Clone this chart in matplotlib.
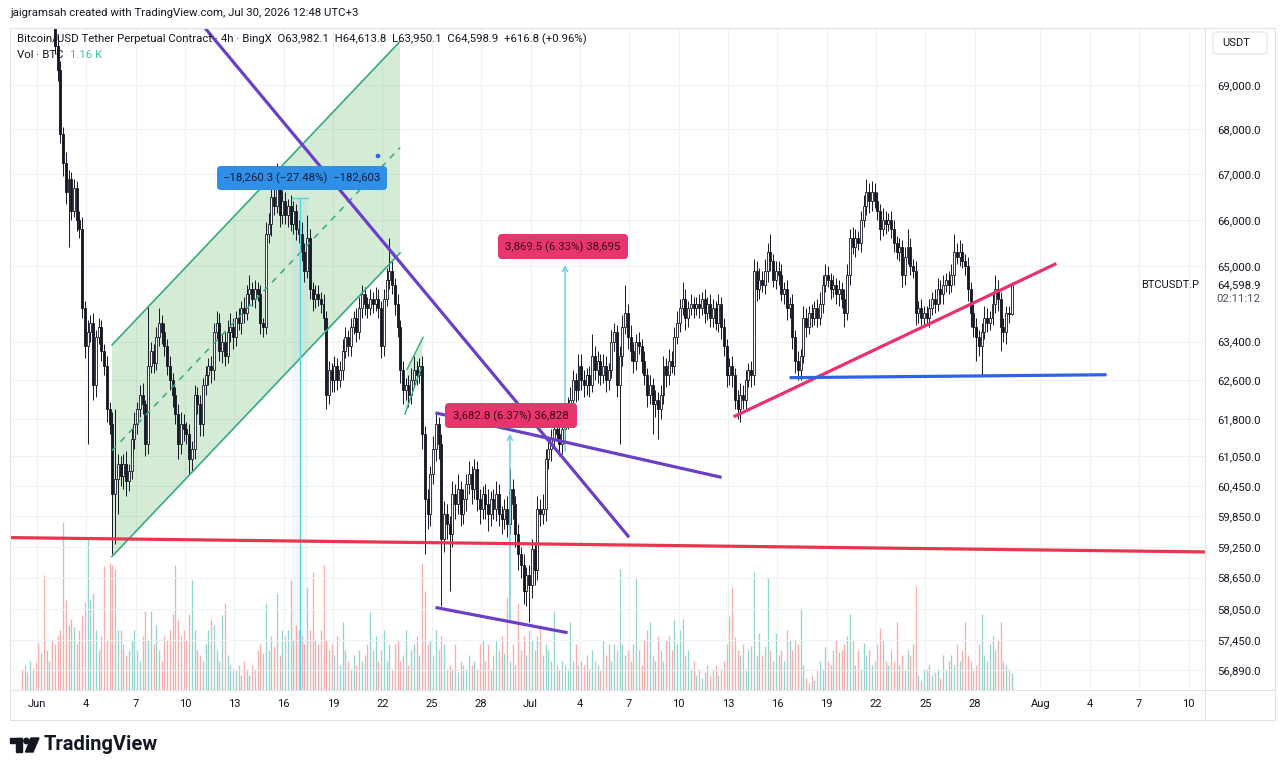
import numpy as np
import pandas as pd
import matplotlib
matplotlib.use("Agg")
import matplotlib.pyplot as plt
from matplotlib.patches import FancyBboxPatch, Polygon, Circle, Rectangle
from matplotlib.ticker import NullLocator

plt.rcParams["font.family"] = ["Roboto", "DejaVu Sans"]

# ---- BTCUSDT.P 4h candles, first bar 2026-05-31 00:00 ----
first_open = 73000
closes = [
    72800, 73100, 72500, 72900, 72600, 72200,   # May 31
    71900, 72300, 71700, 71400, 71600, 71100,   # Jun 1
    69900, 69340, 67900, 67250, 66600, 66900,   # Jun 2
    66200, 66700, 66000, 65800, 64100, 63300,   # Jun 3
    63600, 63800, 62500, 63500, 63700, 63200,   # Jun 4
    62900, 62000, 61700, 60300, 60600, 60900,   # Jun 5
    60650, 60900, 60550, 60750, 61400, 61700,   # Jun 6
    62000, 62300, 62100, 61300, 62900, 63200,   # Jun 7
    62950, 63500, 63800, 63600, 63300, 62900,   # Jun 8
    62600, 62300, 61900, 61300, 61700, 61600,   # Jun 9
    61500, 61000, 61200, 62300, 62100, 61700,   # Jun 10
    62500, 62700, 62900, 62800, 63600, 63800,   # Jun 11
    63200, 63400, 63100, 63600, 63700, 63500,   # Jun 12
    63900, 63800, 64100, 64000, 64400, 64500,   # Jun 13
    64300, 64500, 64400, 63800, 63700, 65700,   # Jun 14
    65900, 66500, 66300, 66700, 66100, 66400,   # Jun 15
    66100, 66300, 65900, 66200, 65800, 65700,   # Jun 16
    65300, 64900, 65600, 64500, 64300, 64400,   # Jun 17
    64300, 64200, 63900, 62300, 62800, 62600,   # Jun 18
    62900, 62600, 62800, 63200, 63500, 63300,   # Jun 19
    63700, 63900, 63600, 64100, 64400, 64200,   # Jun 20
    64100, 64300, 64200, 64300, 64100, 63300,   # Jun 21
    64300, 64700, 64900, 64600, 64200, 63700,   # Jun 22
    62800, 62400, 62500, 62300, 62600, 62800,   # Jun 23
    62700, 62900, 61500, 60200, 59900, 60700,   # Jun 24
    61200, 61700, 61300, 59400, 59900, 59700,   # Jun 25
    59500, 60300, 60100, 60400, 59900, 60200,   # Jun 26
    60500, 60700, 60400, 60800, 60200, 60000,   # Jun 27
    60300, 60100, 59900, 60200, 60000, 60300,   # Jun 28
    59900, 59800, 60000, 59700, 60400, 60100,   # Jun 29
    59500, 59100, 58900, 58400, 58700, 58500,   # Jun 30
    59200, 58800, 60000, 59900, 60000, 61000,   # Jul 1
    61200, 61400, 61600, 61500, 61300, 61600,   # Jul 2
    61800, 62100, 62200, 62600, 62400, 62900,   # Jul 3
    62600, 62500, 62700, 62500, 63100, 62800,   # Jul 4
    63000, 62700, 62900, 62600, 62800, 63400,   # Jul 5
    63600, 62500, 63100, 63700, 64000, 63500,   # Jul 6
    63200, 63000, 63400, 63300, 63000, 62700,   # Jul 7
    62300, 62500, 62100, 62200, 62000, 62300,   # Jul 8
    62900, 62700, 63000, 62900, 63500, 63800,   # Jul 9
    64100, 64300, 63900, 64100, 64200, 64100,   # Jul 10
    64200, 64100, 64300, 64000, 64200, 63900,   # Jul 11
    64100, 63800, 64200, 63700, 63300, 62700,   # Jul 12
    62900, 62700, 62200, 62000, 62300, 62200,   # Jul 13
    62600, 62800, 62700, 64900, 64500, 64700,   # Jul 14
    64600, 64900, 65300, 65100, 64700, 64900,   # Jul 15
    64800, 64400, 64500, 64100, 64200, 63500,   # Jul 16
    63000, 62800, 63100, 63900, 63700, 64000,   # Jul 17
    63900, 64100, 63900, 64200, 64600, 64800,   # Jul 18
    64700, 64500, 64600, 64400, 64500, 64300,   # Jul 19
    64000, 64800, 65600, 65400, 65600, 65500,   # Jul 20
    66000, 66300, 66600, 66400, 66600, 66400,   # Jul 21
    66200, 65800, 66000, 65900, 66000, 65800,   # Jul 22
    65500, 65300, 65400, 64800, 65200, 65400,   # Jul 23
    65000, 64900, 64000, 64100, 63900, 64000,   # Jul 24
    63900, 64100, 64300, 64200, 64500, 64400,   # Jul 25
    64600, 64700, 64600, 64800, 65300, 65200,   # Jul 26
    65300, 65100, 65000, 64500, 64000, 63700,   # Jul 27
    63500, 63300, 63600, 63900, 63800, 63900,   # Jul 28
    64200, 64500, 64300, 63700, 63600, 64000,   # Jul 29
    63982.1, 64598.9,                           # Jul 30
]
wick_up = [
    150, 200, 120, 180, 100, 150,
    200, 150, 120, 180, 150, 200,
    300, 250, 200, 150, 250, 200,
    150, 200, 150, 200, 250, 150,
    250, 150, 200, 150, 200, 150,
    150, 200, 150, 250, 1400, 200,
    150, 200, 250, 150, 200, 250,
    150, 200, 250, 100, 1250, 200,
    150, 200, 300, 150, 200, 150,
    200, 150, 150, 200, 250, 200,
    150, 200, 150, 200, 150, 200,
    150, 200, 150, 200, 200, 250,
    200, 150, 200, 250, 300, 200,
    150, 200, 150, 250, 200, 300,
    150, 200, 150, 200, 100, 250,
    250, 200, 250, 550, 200, 250,
    200, 150, 250, 200, 150, 200,
    250, 200, 500, 200, 150, 200,
    200, 150, 200, 150, 200, 150,
    200, 150, 200, 250, 200, 150,
    200, 150, 200, 250, 200, 150,
    150, 200, 150, 250, 200, 150,
    200, 250, 700, 200, 150, 200,
    150, 200, 150, 200, 250, 300,
    200, 150, 200, 150, 200, 150,
    250, 200, 150, 200, 250, 200,
    150, 250, 200, 300, 150, 200,
    200, 250, 150, 200, 150, 200,
    150, 200, 300, 150, 200, 250,
    200, 150, 200, 250, 400, 200,
    150, 200, 150, 200, 150, 200,
    200, 150, 250, 200, 300, 200,
    250, 200, 150, 200, 250, 200,
    200, 150, 250, 200, 150, 250,
    250, 200, 150, 200, 450, 200,
    200, 150, 250, 200, 150, 250,
    200, 150, 200, 250, 600, 200,
    250, 200, 150, 200, 150, 200,
    150, 200, 150, 200, 150, 200,
    200, 150, 250, 200, 200, 250,
    200, 350, 200, 150, 200, 150,
    150, 200, 150, 200, 150, 200,
    200, 150, 200, 150, 200, 150,
    150, 200, 150, 200, 250, 200,
    200, 150, 200, 250, 200, 250,
    200, 250, 200, 400, 150, 200,
    200, 250, 150, 200, 150, 200,
    150, 200, 150, 250, 200, 150,
    200, 150, 200, 250, 200, 250,
    200, 150, 200, 150, 200, 150,
    200, 250, 200, 250, 200, 150,
    200, 250, 300, 200, 250, 200,
    200, 150, 250, 200, 150, 200,
    200, 150, 200, 150, 200, 400,
    200, 150, 200, 150, 200, 150,
    150, 200, 150, 200, 250, 200,
    200, 150, 200, 250, 400, 200,
    250, 200, 150, 200, 150, 200,
    200, 150, 200, 250, 200, 150,
    250, 300, 200, 150, 200, 150,
    150, 14.9,
]
wick_dn = [
    150, 120, 200, 150, 180, 150,
    150, 200, 150, 120, 150, 200,
    200, 250, 200, 300, 250, 1200,
    200, 150, 250, 200, 200, 250,
    2000, 200, 300, 250, 150, 200,
    200, 250, 200, 1200, 1000, 700,
    200, 250, 300, 200, 150, 200,
    200, 150, 200, 250, 200, 150,
    200, 150, 200, 250, 200, 200,
    200, 250, 200, 300, 200, 250,
    200, 300, 250, 200, 200, 250,
    250, 200, 200, 250, 200, 150,
    200, 250, 200, 150, 200, 250,
    200, 150, 250, 200, 150, 200,
    150, 200, 150, 250, 200, 150,
    200, 250, 200, 150, 250, 200,
    200, 250, 150, 200, 250, 200,
    200, 250, 150, 200, 250, 200,
    150, 200, 250, 300, 200, 250,
    250, 200, 150, 200, 150, 200,
    200, 150, 200, 150, 200, 250,
    200, 150, 200, 150, 200, 250,
    200, 150, 200, 200, 250, 200,
    250, 300, 200, 250, 200, 150,
    200, 150, 300, 1100, 300, 250,
    200, 250, 300, 1300, 250, 300,
    1100, 250, 300, 200, 250, 200,
    250, 200, 300, 200, 250, 300,
    200, 300, 350, 250, 200, 250,
    250, 300, 200, 250, 200, 300,
    250, 300, 250, 250, 300, 700,
    250, 300, 200, 250, 200, 250,
    200, 250, 200, 150, 250, 200,
    250, 200, 150, 200, 250, 200,
    200, 250, 200, 250, 150, 200,
    250, 200, 150, 250, 200, 150,
    200, 250, 1200, 200, 150, 250,
    200, 250, 200, 150, 250, 200,
    250, 200, 600, 250, 600, 200,
    200, 250, 200, 150, 200, 150,
    200, 150, 250, 200, 150, 200,
    150, 200, 150, 200, 150, 200,
    200, 150, 200, 250, 200, 250,
    200, 250, 200, 200, 250, 200,
    200, 150, 250, 200, 250, 200,
    150, 200, 250, 200, 150, 200,
    200, 150, 200, 250, 200, 250,
    250, 200, 200, 150, 200, 150,
    200, 150, 200, 150, 200, 150,
    150, 200, 150, 200, 250, 200,
    300, 150, 200, 150, 200, 150,
    200, 150, 200, 250, 200, 150,
    200, 250, 150, 200, 150, 200,
    200, 150, 200, 250, 200, 150,
    200, 150, 250, 200, 150, 200,
    150, 200, 150, 200, 150, 200,
    200, 150, 200, 150, 200, 150,
    200, 150, 200, 250, 300, 200,
    500, 200, 600, 150, 200, 150,
    150, 200, 250, 500, 200, 250,
    200, 31.9,
]
# volume in thousand BTC
volume_k = [
    1.4, 1.7, 1.2, 2.0, 1.5, 1.9,
    3.2, 2.5, 7.8, 2.7, 2.0, 3.4,
    3.1, 3.7, 4.1, 11.4, 6.1, 4.4,
    4.8, 4.3, 3.1, 4.1, 5.1, 6.0,
    10.2, 6.1, 6.6, 4.1, 2.7, 3.7,
    8.4, 3.4, 8.6, 8.5, 8.2, 4.1,
    4.1, 3.1, 2.4, 2.7, 3.4, 4.1,
    2.7, 2.0, 3.7, 5.4, 3.4, 5.4,
    3.1, 4.4, 2.7, 2.0, 3.7, 3.4,
    4.1, 5.2, 8.5, 4.8, 3.7, 4.1,
    3.4, 5.2, 7.5, 4.1, 2.7, 2.4,
    2.0, 3.1, 4.1, 4.8, 4.4, 2.7,
    2.0, 5.1, 5.9, 2.4, 1.7, 1.4,
    1.4, 1.7, 1.0, 2.0, 1.4, 1.0,
    1.7, 1.4, 2.7, 3.1, 2.5, 5.9,
    2.7, 3.7, 3.0, 6.6, 2.4, 4.1,
    3.7, 4.1, 7.5, 3.4, 4.4, 4.1,
    3.7, 3.1, 6.9, 4.1, 8.0, 3.4,
    3.1, 4.1, 8.5, 3.4, 2.7, 3.1,
    2.4, 3.7, 1.7, 4.6, 2.7, 2.0,
    1.4, 2.4, 1.7, 2.7, 2.0, 2.4,
    3.1, 5.3, 2.7, 3.7, 2.0, 2.7,
    4.1, 2.0, 3.1, 1.4, 3.1, 3.4,
    2.0, 2.4, 4.1, 1.7, 2.7, 3.1,
    3.7, 2.4, 8.6, 6.7, 3.1, 3.4,
    2.4, 4.1, 2.7, 3.7, 3.1, 1.4,
    1.7, 1.4, 3.1, 1.2, 2.0, 1.7,
    1.4, 2.4, 1.7, 2.0, 1.4, 3.1,
    3.4, 2.0, 3.1, 1.4, 2.4, 3.4,
    2.7, 3.7, 2.5, 6.3, 2.0, 3.1,
    1.7, 5.9, 2.7, 3.7, 2.4, 4.1,
    3.4, 2.7, 3.7, 4.4, 2.4, 3.1,
    2.7, 2.0, 5.4, 1.7, 1.4, 2.0,
    1.7, 1.4, 4.6, 2.0, 3.1, 1.7,
    2.0, 1.7, 2.4, 1.4, 2.7, 2.0,
    1.7, 1.4, 3.4, 2.4, 3.1, 2.0,
    3.1, 2.7, 8.2, 3.1, 2.4, 2.7,
    2.0, 3.1, 7.6, 2.7, 1.7, 3.4,
    4.1, 4.6, 2.4, 2.0, 3.7, 2.7,
    2.0, 3.4, 3.7, 2.7, 4.8, 3.1,
    4.1, 4.8, 2.4, 2.7, 1.4, 2.0,
    1.0, 1.4, 0.8, 1.2, 1.7, 1.0,
    1.4, 1.7, 1.0, 1.4, 2.0, 3.1,
    5.0, 7.0, 3.6, 2.7, 2.4, 3.1,
    1.4, 2.7, 3.0, 8.0, 2.4, 3.9,
    2.4, 3.0, 7.7, 2.7, 2.0, 3.9,
    2.4, 2.7, 2.0, 4.1, 3.4, 2.7,
    3.4, 3.1, 5.6, 1.7, 0.8, 0.5,
    1.0, 0.7, 1.4, 2.0, 1.4, 2.9,
    2.0, 1.7, 2.7, 3.4, 2.6, 2.7,
    3.1, 3.7, 5.2, 3.4, 1.7, 2.7,
    1.4, 3.2, 2.4, 2.7, 1.7, 2.0,
    3.1, 4.2, 3.4, 2.0, 1.7, 2.7,
    2.0, 4.6, 1.7, 2.4, 1.4, 2.7,
    2.4, 3.1, 7.1, 1.0, 0.7, 1.4,
    1.4, 1.7, 1.0, 1.2, 1.4, 0.8,
    2.4, 1.4, 2.0, 2.4, 1.7, 3.1,
    2.0, 2.7, 4.6, 2.4, 2.0, 1.4,
    1.7, 3.1, 5.2, 2.4, 2.0, 3.1,
    3.7, 2.7, 3.4, 4.6, 2.0, 1.7,
    1.4, 1.16,
]

price_ticks = [69000, 68000, 67000, 66000, 65000, 63400, 62600, 61800,
               61050, 60450, 59850, 59250, 58650, 58050, 57450, 56890]
date_ticks = ["2026-06-01", "2026-06-04", "2026-06-07", "2026-06-10", "2026-06-13",
              "2026-06-16", "2026-06-19", "2026-06-22", "2026-06-25", "2026-06-28",
              "2026-07-01", "2026-07-04", "2026-07-07", "2026-07-10", "2026-07-13",
              "2026-07-16", "2026-07-19", "2026-07-22", "2026-07-25", "2026-07-28",
              "2026-08-01", "2026-08-04", "2026-08-07", "2026-08-10"]
date_labels = ["Jun", "4", "7", "10", "13", "16", "19", "22", "25", "28",
               "Jul", "4", "7", "10", "13", "16", "19", "22", "25", "28",
               "Aug", "4", "7", "10"]

# user drawings, x = days after Jun 1 00:00, y = price
red_level_t, red_level_p = [-1.64, 71.0], [59430, 59150]
fall_line_t, fall_line_p = [9.8, 35.93], [70500, 59460]
wedge_top_t, wedge_top_p = [24.32, 41.52], [61920, 60630]
wedge_low_t, wedge_low_p = [24.32, 32.16], [58070, 57600]
rise_line_t, rise_line_p = [42.43, 61.88], [61860, 65040]
support_t, support_p = [45.84, 64.92], [62650, 62710]
chan_t = [4.56, 22.07]
chan_upper = [63330, 70000]
chan_lower = [59060, 65280]
chan_mid = [61160, 67590]
flag_t = [22.37, 23.34, 23.47, 22.49]
flag_p = [61900, 62840, 63490, 62820]
meas1_t, meas1_band, meas1_top, meas1_low = 15.99, (15.5, 16.47), 66470, 48210
meas2_t, meas2_from, meas2_to = 32.1, 61150, 65020
meas3_t, meas3_from, meas3_to = 28.75, 57820, 61500

# ---- derived OHLC ----
origin = pd.Timestamp("2026-06-01")
bars = pd.date_range("2026-05-31 00:00", periods=len(closes), freq="4h")
t = ((bars - origin) / pd.Timedelta(days=1)).to_numpy() + 2 / 24
c = np.array(closes, dtype=float)
o = np.r_[first_open, c[:-1]]
hi = np.maximum(o, c) + np.array(wick_up)
lo = np.minimum(o, c) - np.array(wick_dn)
up = c >= o
tick_days = [(pd.Timestamp(d) - origin) / pd.Timedelta(days=1) for d in date_ticks]

INK = "#131722"
W, H = 1280, 773
fig = plt.figure(figsize=(W / 100, H / 100), dpi=100)
fig.patch.set_facecolor("white")
ax = fig.add_axes([10 / W, (H - 690) / H, 1195 / W, 662 / H])
ax_v = ax.twinx()
ax_v.set_zorder(ax.get_zorder() - 1)
ax.patch.set_visible(False)

# volume
vol_col = np.where(up, "#95d4cd", "#f7adab")
ax_v.vlines(t, 0, volume_k, colors=vol_col, linewidth=0.95)
ax_v.set_ylim(0, 45)
ax_v.set_yticks([])
ax_v.tick_params(right=False, labelright=False)

# candles
ax.set_yscale("log")
ax.vlines(t, lo, hi, color=INK, linewidth=0.7, zorder=3)
body = np.maximum(np.abs(c - o), 12)
ax.bar(t[up], body[up], bottom=np.minimum(o, c)[up], width=0.12,
       facecolor="white", edgecolor=INK, linewidth=0.6, zorder=4)
ax.bar(t[~up], body[~up], bottom=np.minimum(o, c)[~up], width=0.12,
       facecolor=INK, edgecolor=INK, linewidth=0.6, zorder=4)

# green parallel channel
ax.fill([chan_t[0], chan_t[1], chan_t[1], chan_t[0]],
        [chan_lower[0], chan_lower[1], chan_upper[1], chan_upper[0]],
        color="#4caf50", alpha=0.24, lw=0, zorder=2)
ax.plot(chan_t, chan_upper, color="#36a983", lw=1.2, zorder=5)
ax.plot(chan_t, chan_lower, color="#36a983", lw=1.2, zorder=5)
ax.plot(chan_t, chan_mid, color="#36a983", lw=1.1, ls=(0, (4, 4)), zorder=5)
ax.fill(flag_t, flag_p, color="#4caf50", alpha=0.24, lw=0, zorder=2)
ax.plot(flag_t[:2], flag_p[:2], color="#36a983", lw=1.0, zorder=5)
ax.plot(flag_t[3:1:-1], flag_p[3:1:-1], color="#36a983", lw=1.0, zorder=5)

# measurement tools
ax.add_patch(Rectangle((meas1_band[0], meas1_low), meas1_band[1] - meas1_band[0],
                       meas1_top - meas1_low, facecolor="#4fc3f7", alpha=0.07,
                       lw=0, zorder=2))
ax.plot(meas1_band, [meas1_top, meas1_top], color="#5ccfe6", lw=1.0, zorder=5)
ax.plot([meas1_t, meas1_t], [meas1_top, meas1_low], color="#5ccfe6", lw=1.0, zorder=5)
for mt, mf, mto in [(meas2_t, meas2_from, meas2_to), (meas3_t, meas3_from, meas3_to)]:
    ax.annotate("", xy=(mt, mto), xytext=(mt, mf),
                arrowprops=dict(arrowstyle="->", color="#5ccfe6", lw=1.0,
                                mutation_scale=9, shrinkA=0, shrinkB=0), zorder=5)

# trend lines
ax.plot(red_level_t, red_level_p, color="#e8364f", lw=2.3, zorder=6)
ax.plot(fall_line_t, fall_line_p, color="#6b3fc8", lw=2.3, zorder=6)
ax.plot(wedge_top_t, wedge_top_p, color="#6b3fc8", lw=2.3, zorder=6)
ax.plot(wedge_low_t, wedge_low_p, color="#6b3fc8", lw=2.3, zorder=6)
ax.plot(rise_line_t, rise_line_p, color="#e8326e", lw=2.3, zorder=6)
ax.plot(support_t, support_p, color="#2f62e6", lw=2.3, zorder=6)

# axes
ax.set_xlim(-1.64, 71.0)
ax.set_ylim(56516, 70310)
ax.yaxis.tick_right()
ax.yaxis.set_minor_locator(NullLocator())
ax.set_yticks(price_ticks)
ax.set_yticklabels([f"{p:,.1f}" for p in price_ticks])
ax.set_xticks(tick_days)
ax.set_xticklabels(date_labels)
ax.tick_params(axis="y", length=0, pad=8.5, labelsize=8.2, colors=INK)
ax.tick_params(axis="x", length=0, pad=6.2, labelsize=8.0, colors=INK)
ax.grid(True, color="#eff1f5", lw=0.8, zorder=0)
ax.set_axisbelow(True)
for sp in list(ax.spines.values()) + list(ax_v.spines.values()):
    sp.set_visible(False)

ax.annotate(f"{closes[-1]:,.1f}", xy=(1, closes[-1]), xycoords=("axes fraction", "data"),
            xytext=(8.5, 0), textcoords="offset points", va="center", ha="left",
            fontsize=8.2, color=INK, annotation_clip=False)
ax.annotate("02:11:12", xy=(1, closes[-1]), xycoords=("axes fraction", "data"),
            xytext=(8.5, -10), textcoords="offset points", va="center", ha="left",
            fontsize=8.2, color="#50535e", annotation_clip=False)
ax.annotate("BTCUSDT.P", xy=(1, closes[-1]), xycoords=("axes fraction", "data"),
            xytext=(-4, 0), textcoords="offset points", va="center", ha="right",
            fontsize=8.0, color=INK, annotation_clip=False)

# ---- overlay (pixel coordinates) ----
ov = fig.add_axes([0, 0, 1, 1], zorder=20)
ov.set_xlim(0, W)
ov.set_ylim(H, 0)
ov.axis("off")
ov.patch.set_alpha(0)

frame = "#e0e3eb"
ov.plot([10, 1275, 1275, 10, 10], [28, 28, 720, 720, 28], color=frame, lw=0.8)
ov.plot([1205, 1205], [28, 720], color=frame, lw=0.8)
ov.plot([10, 1275], [690, 690], color=frame, lw=0.8)

ov.text(10, 13, "jaigramsah created with TradingView.com, Jul 30, 2026 12:48 UTC+3",
        fontsize=8.2, color=INK, va="center")
ov.text(17, 39, "Bitcoin/USD Tether Perpetual Contract · 4h · BingX  O63,982.1  H64,613.8"
        "  L63,950.1  C64,598.9  +616.8 (+0.96%)", fontsize=8.2, color=INK, va="center")
ov.text(17, 55, "Vol · BTC", fontsize=8.2, color=INK, va="center")
ov.text(70, 55, "1.16 K", fontsize=8.2, color="#4cbfae", va="center")

ov.add_patch(FancyBboxPatch((1213, 32), 54, 22, boxstyle="round,pad=0,rounding_size=4",
                            facecolor="white", edgecolor=frame, lw=0.8))
ov.text(1222, 43.5, "USDT", fontsize=8.0, color=INK, va="center")

boxes = [((217, 166), 170, 24, "#2f8fe6", "−18,260.3 (−27.48%)  −182,603", "#0c1d3f"),
         ((498, 234), 130, 25, "#e8366c", "3,869.5 (6.33%) 38,695", "#3b0716"),
         ((445, 403), 132, 25, "#e8366c", "3,682.8 (6.37%) 36,828", "#3b0716")]
for (bx, by), bw, bh, fc, txt, tc in boxes:
    ov.add_patch(FancyBboxPatch((bx, by), bw, bh, boxstyle="round,pad=0,rounding_size=4",
                                facecolor=fc, edgecolor="none"))
    ov.text(bx + bw / 2, by + bh / 2 + 0.5, txt, fontsize=8.2, color=tc,
            ha="center", va="center")
ov.add_patch(Circle((378, 156), 1.6, color="#2962ff"))

# TradingView logo
ov.add_patch(Rectangle((10, 738), 11, 5, color=INK))
ov.add_patch(Rectangle((16, 738), 5.5, 14, color=INK))
ov.add_patch(Circle((26.5, 741), 2.7, color=INK))
ov.add_patch(Polygon([(31, 738), (39, 738), (33, 752), (25.5, 752)], color=INK))
ov.text(44, 745, "TradingView", fontsize=14.5, fontweight="bold", color=INK, va="center")

fig.savefig("out.png", dpi=100)
plt.close(fig)
